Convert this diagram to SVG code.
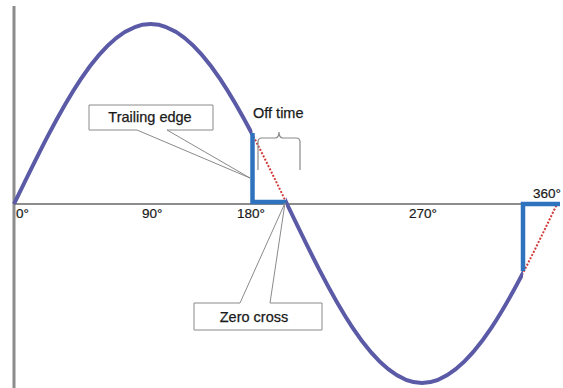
<svg xmlns="http://www.w3.org/2000/svg" width="563" height="388" viewBox="0 0 563 388">
<style>
  .axis{stroke:#8c8c8c;fill:none}
  .wave{stroke:#5a5aa6;stroke-width:4;fill:none;stroke-linejoin:round}
  .dot{stroke:#d23a3a;stroke-width:2;stroke-dasharray:2 1.6;fill:none}
  .edge{stroke:#2f73bf;stroke-width:4.5;fill:none;stroke-linejoin:miter}
  .call{fill:#fff;stroke:#8a8a8a;stroke-width:1}
  .brace{stroke:#8a8a8a;stroke-width:1.2;fill:none}
  .lbl{font-family:"Liberation Sans",Arial,sans-serif;font-size:14.5px;fill:#1a1a1a;stroke:#1a1a1a;stroke-width:0.25}
  .deg{font-family:"Liberation Sans",Arial,sans-serif;font-size:13.5px;fill:#1a1a1a;stroke:#1a1a1a;stroke-width:0.2}
</style>
<defs>
  <path id="sine" d="M14,204 C58.52,112.3 101.1,24 150.5,24 C199.9,24 242.48,112.3 287,204 C331.03,295.7 373.14,383 422,383 C470.86,383 512.97,295.7 557,204"/>
  <clipPath id="keep">
    <rect x="0" y="0" width="252.5" height="388"/>
    <rect x="286" y="0" width="237" height="388"/>
  </clipPath>
</defs>
<g id="axes">
  <line class="axis" x1="14" y1="6" x2="14" y2="388" stroke-width="3"/>
  <line class="axis" x1="14" y1="204" x2="558" y2="204" stroke-width="2"/>
</g>
<g id="wave">
  <use href="#sine" class="dot"/>
  <use href="#sine" class="wave" clip-path="url(#keep)"/>
</g>
<g id="trailing-edges">
  <path class="edge" d="M252.5,133 V202 H286"/>
  <path class="edge" d="M523,271 V204 H560"/>
</g>
<g id="axis-labels">
  <text class="deg" x="16" y="218">0°</text>
  <text class="deg" x="142" y="218">90°</text>
  <text class="deg" x="237" y="218">180°</text>
  <text class="deg" x="409" y="218">270°</text>
  <text class="deg" x="533" y="198">360°</text>
</g>
<g id="off-time">
  <text class="lbl" x="253" y="118">Off time</text>
  <path class="brace" d="M258,170 V142 Q258,138 262,138 H275 Q279,138 279,132 Q279,138 283,138 H296 Q300,138 300,142 V170"/>
</g>
<g id="connectors">
  <path class="call" d="M89,105 H213 V130 H167 L250,178 L137,130 H89 Z"/>
  <path class="call" d="M194,303 H240 L285,203 L270,303 H322 V330 H194 Z"/>
</g>
<g id="trailing-edge-label">
  <text class="lbl" x="150" y="122" text-anchor="middle">Trailing edge</text>
</g>
<g id="zero-cross-label">
  <text class="lbl" x="254" y="322" text-anchor="middle">Zero cross</text>
</g>
</svg>
